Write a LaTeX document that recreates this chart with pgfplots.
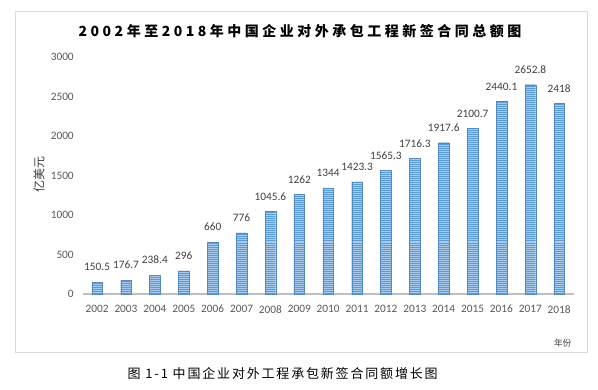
\documentclass[border=0pt]{standalone}
\usepackage{fontspec}
\setmainfont{Carlito}
\newfontfamily\cjk{Noto Sans CJK SC}
\usepackage{pgfplots}
\pgfplotsset{compat=1.18}
\usetikzlibrary{patterns.meta}
\definecolor{barblue}{HTML}{5B9BD5}
\definecolor{barlight}{HTML}{A8CBEE}
\definecolor{ticktxt}{HTML}{595959}
\definecolor{labtxt}{HTML}{404040}
\definecolor{framegray}{HTML}{D9D9D9}
\begin{document}
\begin{tikzpicture}
\path[use as bounding box, fill=white] (0,0) rectangle (448.5pt,291.75pt);
\draw[framegray, line width=0.75pt] (11.25pt,27.75pt) rectangle (440.6pt,282.75pt);
\begin{axis}[
  at={(62pt,71.25pt)}, anchor=south west,
  scale only axis, width=368.25pt, height=177.5pt,
  xmin=-0.5, xmax=16.5, ymin=0, ymax=3000,
  axis x line=bottom, axis y line=left,
  y axis line style={draw=none},
  x axis line style={draw=gray!50, line width=1.3pt, -},
  major tick length=0pt,
  xtick=data,
  xticklabels={2002,2003,2004,2005,2006,2007,2008,2009,2010,2011,2012,2013,2014,2015,2016,2017,2018},
  ytick={0,500,1000,1500,2000,2500,3000},
  ticklabel style={font=\fontsize{8.5pt}{10pt}\selectfont, text=ticktxt},
  yticklabel style={inner sep=0pt, xshift=-6.5pt, /pgf/number format/1000 sep={}},
  xticklabel style={inner sep=0pt, yshift=-8.25pt},
  /pgf/number format/assume math mode=true,
  /pgf/number format/1000 sep={},
  scaled y ticks=false,
  ybar, bar width=8pt,
  nodes near coords,
  every node near coord/.append style={font=\fontsize{8.5pt}{10pt}\selectfont, text=labtxt, inner sep=0pt, anchor=south, yshift=8.25pt},
  point meta=explicit symbolic,
  clip=false,
]
\addplot[draw=barblue!90!black, line width=0.2pt, fill=barlight,
  postaction={pattern={Lines[angle=0,distance=1.5pt,line width=0.75pt]}, pattern color=barblue}]
  coordinates {
  (0,150.5) [150.5]
  (1,176.7) [176.7]
  (2,238.4) [238.4]
  (3,296) [296]
  (4,660) [660]
  (5,776) [776]
  (6,1045.6) [1045.6]
  (7,1262) [1262]
  (8,1344) [1344]
  (9,1423.3) [1423.3]
  (10,1565.3) [1565.3]
  (11,1716.3) [1716.3]
  (12,1917.6) [1917.6]
  (13,2100.7) [2100.7]
  (14,2440.1) [2440.1]
  (15,2652.8) [2652.8]
  (16,2418) [2418]
  };
\end{axis}
\node[font={\cjk\bfseries\addfontfeature{LetterSpace=25}\fontsize{10.5pt}{12pt}\selectfont}, text=black, inner sep=0pt] at (225pt,268.5pt) {2002年至2018年中国企业对外承包工程新签合同总额图};
\node[font={\cjk\fontsize{9pt}{10pt}\selectfont}, text=labtxt, rotate=90, inner sep=0pt] at (29.25pt,160.5pt) {亿美元};
\node[font={\cjk\fontsize{6.5pt}{7pt}\selectfont}, text=labtxt, inner sep=0pt] at (422pt,34.5pt) {年份};
\node[font={\cjk\addfontfeature{LetterSpace=14}\fontsize{9.75pt}{11pt}\selectfont}, text=black, inner sep=0pt] at (212pt,11.5pt) {图 1-1 中国企业对外工程承包新签合同额增长图};
\end{tikzpicture}
\end{document}
